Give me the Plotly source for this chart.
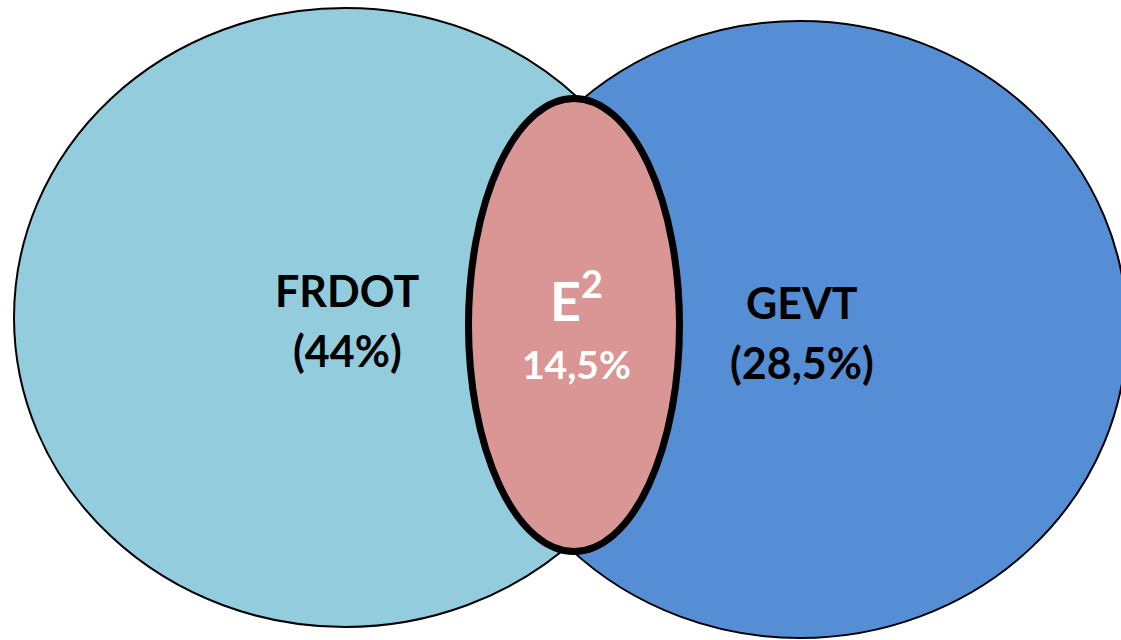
import plotly.graph_objects as go

# ---- data ----
set_names = ["FRDOT", "GEVT"]
set_shares = ["44%", "28,5%"]
overlap_name = "E<sup>2</sup>"
overlap_share = "14,5%"

# ---- geometry (pixel-like axis units) ----
W, H = 1121, 640
ellipses = [  # cx, cy, rx, ry
    (345, 317.5, 331, 309.5),
    (800, 329.5, 327, 308.5),
]
lens = (574, 325, 105.5, 226.5)
set_colors = ["#93CDDD", "#558ED5"]
lens_color = "#D99694"
label_pos = [(347, 290, 350), (802, 302, 362)]
lens_label_pos = (576, 297, 364)

fig = go.Figure()
fig.add_trace(go.Scatter(x=[0, W], y=[0, H], mode="markers",
                         marker=dict(opacity=0), hoverinfo="skip", showlegend=False))

for (cx, cy, rx, ry), col in zip(ellipses, set_colors):
    fig.add_shape(type="circle", xref="x", yref="y",
                  x0=cx - rx, x1=cx + rx, y0=cy - ry, y1=cy + ry,
                  fillcolor=col, line=dict(color="black", width=2), layer="below")

cx, cy, rx, ry = lens
fig.add_shape(type="circle", xref="x", yref="y",
              x0=cx - rx, x1=cx + rx, y0=cy - ry, y1=cy + ry,
              fillcolor=lens_color, line=dict(color="black", width=7), layer="below")

FAM = "Lato, 'Open Sans', sans-serif"
font_black = dict(family=FAM, size=43, color="black")
for name, share, (x, y1, y2) in zip(set_names, set_shares, label_pos):
    fig.add_annotation(x=x, y=y1, text=f"<b>{name}</b>", showarrow=False,
                       xanchor="center", yanchor="middle", font=font_black)
    fig.add_annotation(x=x, y=y2, text=f"<b>({share})</b>", showarrow=False,
                       xanchor="center", yanchor="middle", font=font_black)

x, y1, y2 = lens_label_pos
fig.add_annotation(x=x, y=y1, text=f"<b>{overlap_name}</b>", showarrow=False,
                   xanchor="center", yanchor="middle",
                   font=dict(family=FAM, size=54, color="white"))
fig.add_annotation(x=x, y=y2, text=f"<b>{overlap_share}</b>", showarrow=False,
                   xanchor="center", yanchor="middle",
                   font=dict(family=FAM, size=39, color="white"))

fig.update_layout(
    width=W, height=H, margin=dict(l=0, r=0, t=0, b=0),
    paper_bgcolor="white", plot_bgcolor="white", showlegend=False,
    xaxis=dict(range=[0, W], visible=False, fixedrange=True),
    yaxis=dict(range=[H, 0], visible=False, fixedrange=True),
)
fig.write_html("out.html", config={"displayModeBar": False},
               post_script="document.body.style.margin='0px';document.body.style.overflow='hidden';")
